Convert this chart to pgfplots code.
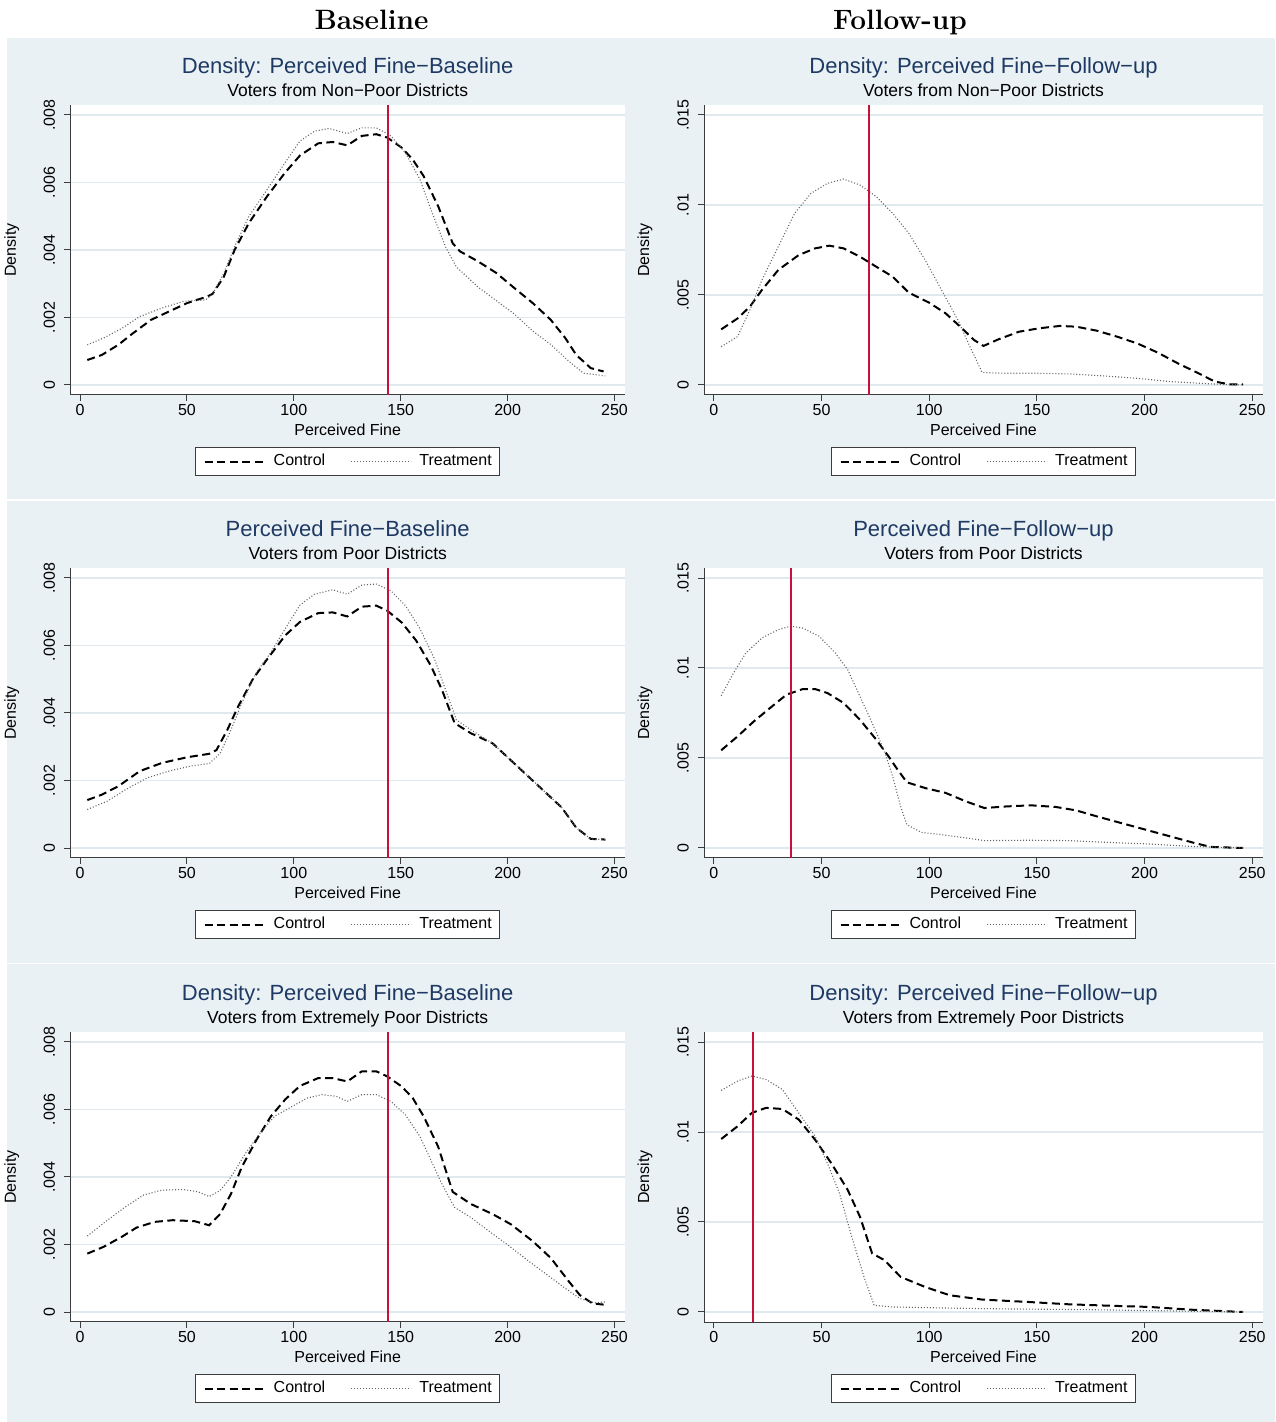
\documentclass[border=0pt]{standalone}
\usepackage{fontspec}
\newfontfamily\arial{Liberation Sans}
\usepackage{pgfplots}
\pgfplotsset{compat=1.18}

\definecolor{bgcol}{RGB}{234,241,244}
\definecolor{gridcol}{RGB}{224,234,238}
\definecolor{titleblue}{RGB}{30,58,100}
\definecolor{axisgray}{RGB}{60,60,60}
\definecolor{xlinered}{RGB}{200,16,60}
\definecolor{dotgray}{RGB}{100,100,100}

\newcommand{\fsize}{\arial\fontsize{16}{18}\selectfont}

\pgfplotsset{
  stata/.style={
    scale only axis, height=290pt, anchor=south west, clip=false,
    xmin=-4.6, xmax=255,
    axis x line*=bottom, axis y line*=left,
    axis line style={line width=1pt, draw=axisgray},
    tick align=outside, major tick length=6pt,
    tick style={line width=1pt, draw=axisgray},
    xtick={0,50,100,150,200,250}, xticklabels={0,50,100,150,200,250},
    scaled y ticks=false, scaled x ticks=false,
    ymajorgrids, grid style={line width=1.3pt, draw=gridcol},
    axis background/.style={fill=white},
    tick label style={font=\fsize, inner sep=0pt},
    label style={font=\fsize, inner sep=0pt},
    yticklabel style={rotate=90, anchor=south},
    yticklabel shift=9pt, xticklabel shift=3pt,
    xlabel={Perceived Fine}, ylabel={Density},
    xlabel style={at={(axis description cs:0.5,-0.138)}, anchor=base},
    ylabel style={at={(axis description cs:-0.0917,0.5)}, anchor=south},
    legend image code/.code={\draw[##1] (0pt,0pt) -- (60pt,0pt);},
    legend style={at={(axis description cs:0.5,-0.179)}, anchor=north,
      draw=axisgray, line width=0.8pt, fill=white, font=\fsize,
      legend columns=2, inner xsep=8pt, inner ysep=7pt,
      column sep=0pt,
      /tikz/every odd column/.append style={column sep=8pt},
      /tikz/every even column/.append style={column sep=25pt},
      nodes={inner sep=0pt, text height=11.5pt, text depth=3pt}},
  },
  lpanel/.style={stata, width=555pt, ymin=-0.000296, ymax=0.008296,
    ytick={0,0.002,0.004,0.006,0.008}, yticklabels={0,.002,.004,.006,.008}},
  rpanel/.style={stata, width=559pt, ymin=-0.000556, ymax=0.015556,
    ytick={0,0.005,0.01,0.015}, yticklabels={0,.005,.01,.015}},
  ctrl/.style={black, line width=2pt, dash pattern=on 8pt off 4.5pt},
  treat/.style={dotgray, line width=1.1pt, dash pattern=on 1pt off 2pt},
  vline/.style={draw=xlinered, color=xlinered, solid, line width=1.9pt, mark=none, forget plot},
}

\newcommand{\paneltitles}[2]{%
  \node[anchor=base, text=titleblue, font=\arial\fontsize{22}{26}\selectfont]
    at ([yshift=31pt]axis description cs:0.5,1) {#1};
  \node[anchor=base, font=\arial\fontsize{17.5}{20}\selectfont]
    at ([yshift=8pt]axis description cs:0.5,1) {#2};
}

\begin{document}
\begin{tikzpicture}
\useasboundingbox (0pt,0pt) rectangle (1275pt,1422pt);
\fill[bgcol] (7pt,923pt) rectangle (1275pt,1384pt);
\fill[bgcol] (7pt,459pt) rectangle (1275pt,921pt);
\fill[bgcol] (7pt,0pt) rectangle (1275pt,458pt);

\node[anchor=base, font=\fontsize{28}{30}\selectfont\bfseries] at (371.5pt,1392.7pt) {Baseline};
\node[anchor=base, font=\fontsize{28}{30}\selectfont\bfseries] at (900pt,1392.7pt) {Follow-up};

% ---- row 1, baseline
\begin{axis}[lpanel, at={(70.2pt,1027pt)}]
\addplot[ctrl] coordinates {
(3.4,0.00074) (10.2,0.00089) (17.9,0.00119) (24.7,0.00153) (33.2,0.00193) (41.7,0.00218)
(50.2,0.00243) (59.5,0.00262) (62,0.0027) (67.2,0.0032) (72.3,0.0040) (79,0.0048)
(87.6,0.0056) (96,0.0063) (102.9,0.0068) (111.4,0.00716) (118.2,0.0072) (125,0.0071)
(131.8,0.00738) (138.6,0.00743) (143.7,0.00733) (150.5,0.00703) (155.6,0.00668) (160.7,0.00619)
(167.5,0.0053) (174.3,0.0042) (177.7,0.00396) (186.2,0.00366) (194.7,0.00332) (203.2,0.00287)
(211.7,0.00243) (220.2,0.00193) (227,0.00139) (232.1,0.00089) (238.9,0.0005) (244.9,0.0004)};
\addlegendentry{Control}
\addplot[treat] coordinates {
(3.4,0.00119) (11,0.00139) (19.6,0.00168) (28,0.00203) (38.3,0.00228) (48.5,0.00248)
(58.7,0.00252) (62,0.0027) (67.2,0.0033) (72.3,0.0041) (79,0.0050) (87.6,0.0058)
(96,0.0066) (102.9,0.00723) (109.7,0.00752) (116.5,0.0076) (125,0.00745) (131.8,0.00762)
(138.6,0.00762) (145.4,0.00738) (152.2,0.00688) (159,0.00609) (164.1,0.0052) (170.9,0.0041)
(176,0.0035) (186.2,0.0029) (194.7,0.0025) (203.2,0.0021) (211.7,0.0016) (220.2,0.0012)
(228.7,0.0007) (235.5,0.00035) (245.7,0.00027)};
\addlegendentry{Treatment}
\addplot[vline] coordinates {(144,-0.000296) (144,0.008296)};
\paneltitles{Density: Perceived Fine−Baseline}{Voters from Non−Poor Districts}
\end{axis}

% ---- row 1, follow-up
\begin{axis}[rpanel, at={(704pt,1027pt)}]
\addplot[ctrl] coordinates {
(3.4,0.00309) (11,0.0037) (16.7,0.00435) (22.3,0.00528) (29.9,0.00639) (39.4,0.00722)
(47,0.00759) (53.6,0.00774) (60.2,0.00759) (67.8,0.00713) (75.4,0.00657) (83,0.00602)
(90.5,0.00513) (100,0.00457) (107.6,0.00398) (115.2,0.00315) (120.8,0.0025) (125.2,0.00217)
(132.2,0.00254) (141.7,0.00296) (151.1,0.00315) (160.6,0.00328) (168.2,0.00324) (177.7,0.00302)
(187.1,0.00269) (196.6,0.00231) (206.1,0.0018) (215.5,0.0012) (225,0.00065) (232.6,0.00019)
(239.2,0.00004) (245.8,0.00004)};
\addlegendentry{Control}
\addplot[treat] coordinates {
(3.4,0.00213) (11,0.00269) (16.7,0.00417) (22.3,0.00583) (29.9,0.00769) (37.5,0.00954)
(45.1,0.01065) (52.7,0.0112) (60.2,0.01144) (67.8,0.01111) (75.4,0.01046) (83,0.00954)
(90.5,0.00843) (98.1,0.00694) (105.7,0.00528) (113.3,0.00361) (118.9,0.00213) (124.6,0.00069)
(136,0.00065) (151.1,0.00065) (166.3,0.00061) (181.4,0.0005) (196.6,0.00037) (211.7,0.00019)
(230.7,0.00006) (245.8,0.0)};
\addlegendentry{Treatment}
\addplot[vline] coordinates {(72,-0.000556) (72,0.015556)};
\paneltitles{Density: Perceived Fine−Follow−up}{Voters from Non−Poor Districts}
\end{axis}

% ---- row 2, baseline
\begin{axis}[lpanel, at={(70.2pt,564pt)}]
\addplot[ctrl] coordinates {
(3.4,0.00142) (10.2,0.00158) (17.9,0.00183) (28,0.00228) (38.3,0.00252) (50.2,0.00269)
(60.4,0.00279) (63.8,0.0029) (68.9,0.0035) (74,0.0042) (80.8,0.0050) (87.6,0.0056)
(96,0.0063) (102.9,0.0067) (111.4,0.00696) (118.2,0.00698) (125,0.00686) (131.8,0.00715)
(138.6,0.00718) (143.7,0.00703) (150.5,0.00668) (157.3,0.00614) (164.1,0.0054) (169.2,0.0047)
(175.2,0.0037) (182.8,0.0034) (193,0.0031) (199.8,0.0027) (208.3,0.0022) (218.5,0.0016)
(225.3,0.0012) (232.1,0.0006) (238.9,0.00027) (245.7,0.00025)};
\addlegendentry{Control}
\addplot[treat] coordinates {
(3.4,0.00114) (12.8,0.00139) (21.3,0.00173) (31.5,0.00208) (41.7,0.00228) (51.9,0.00243)
(60.4,0.0025) (65.5,0.0028) (70.6,0.0035) (75.7,0.0043) (82.5,0.0052) (89.3,0.0058)
(96,0.0065) (102.9,0.0072) (109.7,0.00752) (118.2,0.00765) (125,0.00752) (131.8,0.00779)
(138.6,0.00782) (145.4,0.00762) (152.2,0.00718) (159,0.0065) (165.8,0.0056) (170.9,0.0047)
(176,0.0038) (182.8,0.0035) (193,0.0031) (199.8,0.0027) (208.3,0.0022) (218.5,0.0016)
(225.3,0.0012) (232.1,0.0006) (238.9,0.00027) (245.7,0.00025)};
\addlegendentry{Treatment}
\addplot[vline] coordinates {(144,-0.000296) (144,0.008296)};
\paneltitles{Perceived Fine−Baseline}{Voters from Poor Districts}
\end{axis}

% ---- row 2, follow-up
\begin{axis}[rpanel, at={(704pt,564pt)}]
\addplot[ctrl] coordinates {
(3.4,0.00543) (11,0.0062) (18.6,0.00704) (26.1,0.00778) (33.7,0.00852) (41.3,0.00883)
(47,0.00883) (52.7,0.00861) (60.2,0.00806) (67.8,0.00713) (75.4,0.00602) (81.1,0.00509)
(84.8,0.00444) (89.6,0.00365) (98.1,0.00333) (107.6,0.00306) (117,0.00259) (125.6,0.00222)
(136,0.00231) (147.3,0.00237) (158.7,0.00228) (168.2,0.00209) (177.7,0.00176) (189,0.00139)
(200.4,0.00102) (211.7,0.00065) (223.1,0.00028) (230.7,0.00006) (245.8,0.0)};
\addlegendentry{Control}
\addplot[treat] coordinates {
(3.4,0.00846) (9.1,0.00972) (14.8,0.01083) (22.3,0.01167) (29.9,0.01213) (35.6,0.01232)
(41.3,0.01222) (48.9,0.01176) (56.4,0.01083) (62.1,0.00991) (67.8,0.00843) (73.5,0.00694)
(79.2,0.00537) (83,0.00398) (86.7,0.00231) (89.6,0.0013) (96.2,0.00087) (105.7,0.00074)
(117,0.00056) (125.6,0.00041) (145.5,0.00043) (164.4,0.00041) (183.3,0.00031) (202.3,0.00022)
(221.2,0.00009) (245.8,0.0)};
\addlegendentry{Treatment}
\addplot[vline] coordinates {(36,-0.000556) (36,0.015556)};
\paneltitles{Perceived Fine−Follow−up}{Voters from Poor Districts}
\end{axis}

% ---- row 3, baseline
\begin{axis}[lpanel, at={(70.2pt,100pt)}]
\addplot[ctrl] coordinates {
(3.4,0.00173) (11,0.00193) (19.6,0.00223) (26.4,0.0025) (34.9,0.00267) (43.4,0.00272)
(53.6,0.00269) (60.4,0.00257) (65.5,0.0029) (70.6,0.0035) (75.7,0.0043) (82.5,0.0051)
(89.3,0.0058) (96,0.0063) (102.9,0.0067) (111.4,0.00693) (118.2,0.00693) (125,0.00683)
(131.8,0.00713) (138.6,0.00713) (143.7,0.00698) (150.5,0.00668) (155.6,0.00634) (160.7,0.0058)
(167.5,0.0049) (174.3,0.00356) (182.8,0.0032) (193,0.0029) (201.5,0.0026) (211.7,0.0021)
(220.2,0.0016) (228.7,0.0009) (233.8,0.0005) (239.8,0.00025) (244.9,0.00022)};
\addlegendentry{Control}
\addplot[treat] coordinates {
(3.4,0.00225) (12.8,0.00272) (21.3,0.00312) (29.8,0.00347) (38.3,0.00361) (48.5,0.00363)
(55.3,0.00356) (60.4,0.00342) (65.5,0.0036) (70.6,0.0040) (77.4,0.0047) (84.2,0.0053)
(91,0.0058) (99.5,0.0061) (106.3,0.00634) (113.1,0.00644) (119.9,0.00639) (125,0.00624)
(131.8,0.00644) (138.6,0.00644) (145.4,0.00624) (152.2,0.00584) (159,0.0052) (164.1,0.0045)
(169.2,0.0038) (175.2,0.0031) (182.8,0.0028) (191.2,0.0024) (199.8,0.0020) (210,0.0015)
(218.5,0.0011) (227,0.0007) (233.8,0.0004) (240.6,0.00027) (245.7,0.0003)};
\addlegendentry{Treatment}
\addplot[vline] coordinates {(144,-0.000296) (144,0.008296)};
\paneltitles{Density: Perceived Fine−Baseline}{Voters from Extremely Poor Districts}
\end{axis}

% ---- row 3, follow-up
\begin{axis}[rpanel, at={(704pt,100pt)}]
\addplot[ctrl] coordinates {
(3.4,0.00961) (11,0.01032) (17.6,0.01106) (24.2,0.01134) (31.8,0.01128) (39.4,0.01069)
(47,0.00957) (54.5,0.00827) (62.1,0.00679) (67.8,0.0053) (73.5,0.00325) (79.2,0.00288)
(86.7,0.00195) (98.1,0.00139) (109.5,0.00093) (124.6,0.00069) (145.5,0.00056) (164.4,0.00043)
(183.3,0.00035) (202.3,0.00028) (221.2,0.00013) (245.8,0.0)};
\addlegendentry{Control}
\addplot[treat] coordinates {
(3.4,0.01231) (11,0.01283) (17.6,0.01311) (24.2,0.01292) (31.8,0.01236) (39.4,0.01106)
(47,0.00976) (52.7,0.00827) (58.3,0.0066) (64,0.00418) (69.7,0.00195) (74.4,0.00037)
(83,0.00028) (107.6,0.00022) (136,0.00017) (173.9,0.00013) (211.7,0.00006) (245.8,0.0)};
\addlegendentry{Treatment}
\addplot[vline] coordinates {(18,-0.000556) (18,0.015556)};
\paneltitles{Density: Perceived Fine−Follow−up}{Voters from Extremely Poor Districts}
\end{axis}
\end{tikzpicture}
\end{document}
